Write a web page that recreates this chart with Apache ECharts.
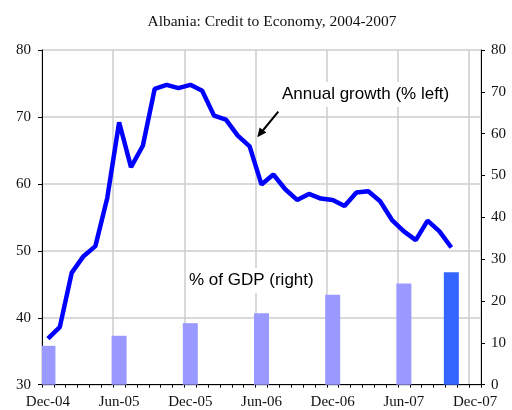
<!DOCTYPE html>
<html>
<head>
<meta charset="utf-8">
<script src="https://cdn.jsdelivr.net/npm/echarts@6/dist/echarts.min.js"></script>
<style>html,body{margin:0;padding:0;background:#fff;}#c{width:512px;height:410px;}</style>
</head>
<body>
<div id="c"></div>
<script>
// Monthly categories Dec-04 .. Dec-07
var months = ['Dec-04','Jan-05','Feb-05','Mar-05','Apr-05','May-05','Jun-05','Jul-05','Aug-05','Sep-05','Oct-05','Nov-05',
  'Dec-05','Jan-06','Feb-06','Mar-06','Apr-06','May-06','Jun-06','Jul-06','Aug-06','Sep-06','Oct-06','Nov-06',
  'Dec-06','Jan-07','Feb-07','Mar-07','Apr-07','May-07','Jun-07','Jul-07','Aug-07','Sep-07','Oct-07','Nov-07','Dec-07'];
// Annual growth (% , left axis), Dec-04 .. Oct-07
var growth = [36.9,38.6,46.7,49.2,50.7,57.9,69.2,62.5,65.7,74.2,74.8,74.3,
  74.8,73.9,70.2,69.6,67.2,65.6,59.9,61.4,59.2,57.6,58.5,57.8,
  57.6,56.7,58.7,58.9,57.4,54.6,52.9,51.6,54.5,52.9,50.5];
// Credit as % of GDP (right axis)
var gdpMonths = ['Dec-04','Jun-05','Dec-05','Jun-06','Dec-06','Jun-07','Oct-07'];
var gdpValues = [9.3,11.7,14.7,17.1,21.5,24.2,26.9];
var leftTicks = [30,40,50,60,70,80];
var rightTicks = [0,10,20,30,40,50,60,70,80];

var barData = months.map(function(m){
  var k = gdpMonths.indexOf(m);
  if (k < 0) return '-';
  return {value: gdpValues[k], itemStyle: {color: k === gdpMonths.length-1 ? '#3366FF' : '#9999FF'}};
});

var serif = '"Liberation Serif", "DejaVu Serif", serif';
var sans = '"Liberation Sans", Arial, sans-serif';

var chart = echarts.init(document.getElementById('c'), null, {renderer:'canvas'});
chart.setOption({
  animation: false,
  backgroundColor: '#fff',
  title: {
    text: 'Albania: Credit to Economy, 2004-2007',
    left: 267, top: 9, textAlign: 'center',
    textStyle: {fontFamily: serif, fontSize: 15.5, fontWeight: 'normal', color: '#111'}
  },
  grid: {left: 42, right: 31, top: 50, bottom: 25.3, containLabel: false},
  xAxis: {
    type: 'category', data: months, boundaryGap: true,
    axisLine: {show: true, lineStyle: {color: '#000', width: 1}},
    axisTick: {show: true, interval: 0, length: 3, lineStyle: {color: '#000'}},
    axisLabel: {interval: 5, margin: 10, fontFamily: serif, fontSize: 15, color: '#111', showMaxLabel: true},
    splitLine: {show: true, interval: 5, lineStyle: {color: '#cccccc', width: 1.5}}
  },
  yAxis: [{
    type: 'value', min: leftTicks[0], max: leftTicks[leftTicks.length-1], interval: 10, position: 'left',
    axisLine: {show: true, lineStyle: {color: '#000'}},
    axisTick: {show: true, length: 4, lineStyle: {color: '#000'}},
    axisLabel: {margin: 11, fontFamily: serif, fontSize: 15, color: '#111'},
    splitLine: {show: true, lineStyle: {color: '#cccccc', width: 1.5}}
  },{
    type: 'value', min: rightTicks[0], max: rightTicks[rightTicks.length-1], interval: 10, position: 'right',
    axisLine: {show: true, lineStyle: {color: '#000'}},
    axisTick: {show: true, length: 4, lineStyle: {color: '#000'}},
    axisLabel: {margin: 10, fontFamily: serif, fontSize: 15, color: '#111'},
    splitLine: {show: false}
  }],
  series: [{
    type: 'bar', yAxisIndex: 1, data: barData, barWidth: 15, z: 2
  },{
    type: 'line', yAxisIndex: 0, data: growth, symbol: 'none', z: 10,
    lineStyle: {color: '#0000FF', width: 4.5}
  }],
  graphic: [
    {type: 'text', z: 5, left: 280, top: 82,
      style: {text: 'Annual growth (% left)', font: '17px ' + sans, fill: '#000',
        backgroundColor: '#fff', padding: [4, 2, 4, 2]}},
    {type: 'text', z: 5, left: 187, top: 268,
      style: {text: '% of GDP (right)', font: '17px ' + sans, fill: '#000',
        backgroundColor: '#fff', padding: [4, 2, 4, 2]}},
    {type: 'line', z: 6, shape: {x1: 278.3, y1: 111.7, x2: 262, y2: 131.5},
      style: {stroke: '#000', lineWidth: 2}},
    {type: 'polygon', z: 6, shape: {points: [[257.3,137.3],[266.4,132.6],[259.6,127.5]]},
      style: {fill: '#000'}}
  ]
});
</script>
</body>
</html>
